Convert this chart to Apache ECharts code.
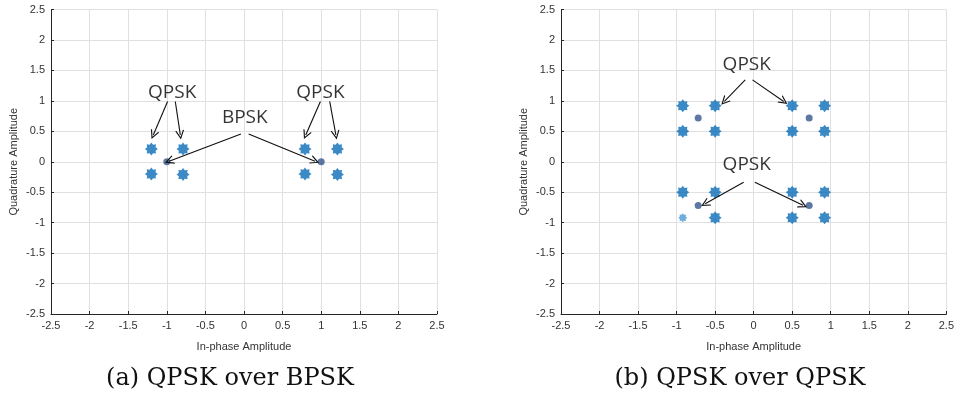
<!DOCTYPE html>
<html>
<head>
<meta charset="utf-8">
<script src="https://cdn.jsdelivr.net/npm/echarts@6/dist/echarts.min.js"></script>
<style>
  html, body { margin: 0; padding: 0; background: #fff; }
  #main { width: 957px; height: 399px; }
</style>
</head>
<body>
<div id="main"></div>
<script>
// data ----------------------------
// (a) QPSK over BPSK
var leftQpsk = [[-1.2, 0.21], [-0.79, 0.21], [-1.2, -0.2], [-0.79, -0.21],
                [0.79, 0.21], [1.21, 0.21], [0.79, -0.2], [1.21, -0.21]];
var leftBpsk = [[-1, 0], [1, 0]];
// (b) QPSK over QPSK
var rightQpsk = [[-0.92, 0.92], [-0.5, 0.92], [-0.92, 0.5], [-0.5, 0.5],
                 [0.5, 0.92], [0.92, 0.92], [0.5, 0.5], [0.92, 0.5],
                 [-0.92, -0.5], [-0.5, -0.5], [0.5, -0.5], [0.92, -0.5],
                 [-0.5, -0.92], [0.5, -0.92], [0.92, -0.92]];
var rightQpskFaint = [[-0.92, -0.92]];
var rightInner = [[-0.72, 0.72], [0.72, 0.72], [-0.72, -0.72], [0.72, -0.72]];

// annotation labels and arrows (data coords)
var leftLabels = [{ name: 'QPSK', value: [-0.93, 1.14] }, { name: 'BPSK', value: [0.01, 0.72] }, { name: 'QPSK', value: [0.99, 1.14] }];
var leftArrows = [
  [[-0.99, 0.99], [-1.175, 0.44]], [[-0.89, 0.99], [-0.825, 0.44]],
  [[-0.04, 0.455], [-0.97, 0.01]], [[0.06, 0.455], [0.92, 0.01]],
  [[0.99, 0.99], [0.80, 0.44]], [[1.11, 0.99], [1.19, 0.44]]
];
var rightLabels = [{ name: 'QPSK', value: [-0.09, 1.6] }, { name: 'QPSK', value: [-0.09, -0.05] }];
var rightArrows = [
  [[-0.11, 1.345], [-0.38, 0.99]], [[-0.015, 1.345], [0.39, 0.99]],
  [[-0.13, -0.335], [-0.63, -0.69]], [[0.015, -0.335], [0.64, -0.715]]
];

var captions = ['(a) QPSK over BPSK', '(b) QPSK over QPSK'];

// styles ----------------------------
var blue = '#0a6db6';
var dotBlue = '#34568B';
var burst = 'path://M20,10 L16.47,12.68 L17.07,17.07 L12.68,16.47 L10,20 L7.32,16.47 L2.93,17.07 L3.53,12.68 L0,10 L3.53,7.32 L2.93,2.93 L7.32,3.53 L10,0 L12.68,3.53 L17.07,2.93 L16.47,7.32 Z';
var openArrow = 'path://M5,0 L10,10 L8.6,10 L5,2.8 L1.4,10 L0,10 Z';

var myChart = echarts.init(document.getElementById('main'));

function xAxisCfg(idx) {
  return {
    type: 'value', gridIndex: idx, min: -2.5, max: 2.5, interval: 0.5,
    name: 'In-phase Amplitude', nameLocation: 'middle', nameGap: 27,
    nameTextStyle: { fontFamily: 'Liberation Sans', fontSize: 11, color: '#333' },
    axisLine: { onZero: false, lineStyle: { color: '#262626', width: 1 } },
    axisTick: { show: true, inside: true, length: 3, lineStyle: { color: '#262626' } },
    axisLabel: { fontFamily: 'Liberation Sans', fontSize: 11, color: '#333', margin: 6,
      formatter: function (v) { return String(v); } },
    splitLine: { show: true, lineStyle: { color: '#e0e0e0', width: 1 } }
  };
}
function yAxisCfg(idx) {
  return {
    type: 'value', gridIndex: idx, min: -2.5, max: 2.5, interval: 0.5,
    name: 'Quadrature Amplitude', nameLocation: 'middle', nameGap: 32,
    nameTextStyle: { fontFamily: 'Liberation Sans', fontSize: 11, color: '#333' },
    axisLine: { onZero: false, lineStyle: { color: '#262626', width: 1 } },
    axisTick: { show: true, inside: true, length: 3, lineStyle: { color: '#262626' } },
    axisLabel: { fontFamily: 'Liberation Sans', fontSize: 11, color: '#333', margin: 6,
      formatter: function (v) { return String(v); } },
    splitLine: { show: true, lineStyle: { color: '#e0e0e0', width: 1 } }
  };
}

function labelSeries(idx, data) {
  return {
    type: 'scatter', xAxisIndex: idx, yAxisIndex: idx, data: data,
    symbolSize: 1, itemStyle: { color: 'rgba(0,0,0,0)' }, silent: true, z: 5,
    label: { show: true, position: 'inside', formatter: '{b}',
      fontFamily: 'Open Sans', fontSize: 19, color: '#000' }
  };
}
function arrowSeries(idx, data) {
  return {
    type: 'lines', coordinateSystem: 'cartesian2d', xAxisIndex: idx, yAxisIndex: idx,
    data: data.map(function (c) { return { coords: c }; }),
    symbol: ['none', openArrow], symbolSize: [0, 9], silent: true, z: 5,
    lineStyle: { color: '#111', width: 1.1, opacity: 1 }
  };
}

option = {
  animation: false,
  backgroundColor: '#fff',
  grid: [
    { left: 51, top: 9.5, width: 386, height: 304.5 },
    { left: 561, top: 9.5, width: 387, height: 304.5 }
  ],
  xAxis: [xAxisCfg(0), xAxisCfg(1)],
  yAxis: [yAxisCfg(0), yAxisCfg(1)],
  series: [
    { type: 'scatter', xAxisIndex: 0, yAxisIndex: 0, data: leftQpsk, symbol: burst, symbolSize: 13, itemStyle: { color: blue } },
    { type: 'scatter', xAxisIndex: 0, yAxisIndex: 0, data: leftBpsk, symbol: 'circle', symbolSize: 7, itemStyle: { color: dotBlue } },
    { type: 'scatter', xAxisIndex: 1, yAxisIndex: 1, data: rightQpsk, symbol: burst, symbolSize: 13, itemStyle: { color: blue } },
    { type: 'scatter', xAxisIndex: 1, yAxisIndex: 1, data: rightQpskFaint, symbol: burst, symbolSize: 9, itemStyle: { color: '#4a9ad6' } },
    { type: 'scatter', xAxisIndex: 1, yAxisIndex: 1, data: rightInner, symbol: 'circle', symbolSize: 7, itemStyle: { color: dotBlue } },
    labelSeries(0, leftLabels),
    labelSeries(1, rightLabels),
    arrowSeries(0, leftArrows),
    arrowSeries(1, rightArrows)
  ],
  graphic: [
    { type: 'text', x: 230, y: 367, style: { text: captions[0], font: '24px "DejaVu Serif"', fill: '#111', textAlign: 'center' } },
    { type: 'text', x: 740, y: 367, style: { text: captions[1], font: '24px "DejaVu Serif"', fill: '#111', textAlign: 'center' } }
  ]
};
myChart.setOption(option);
</script>
</body>
</html>
